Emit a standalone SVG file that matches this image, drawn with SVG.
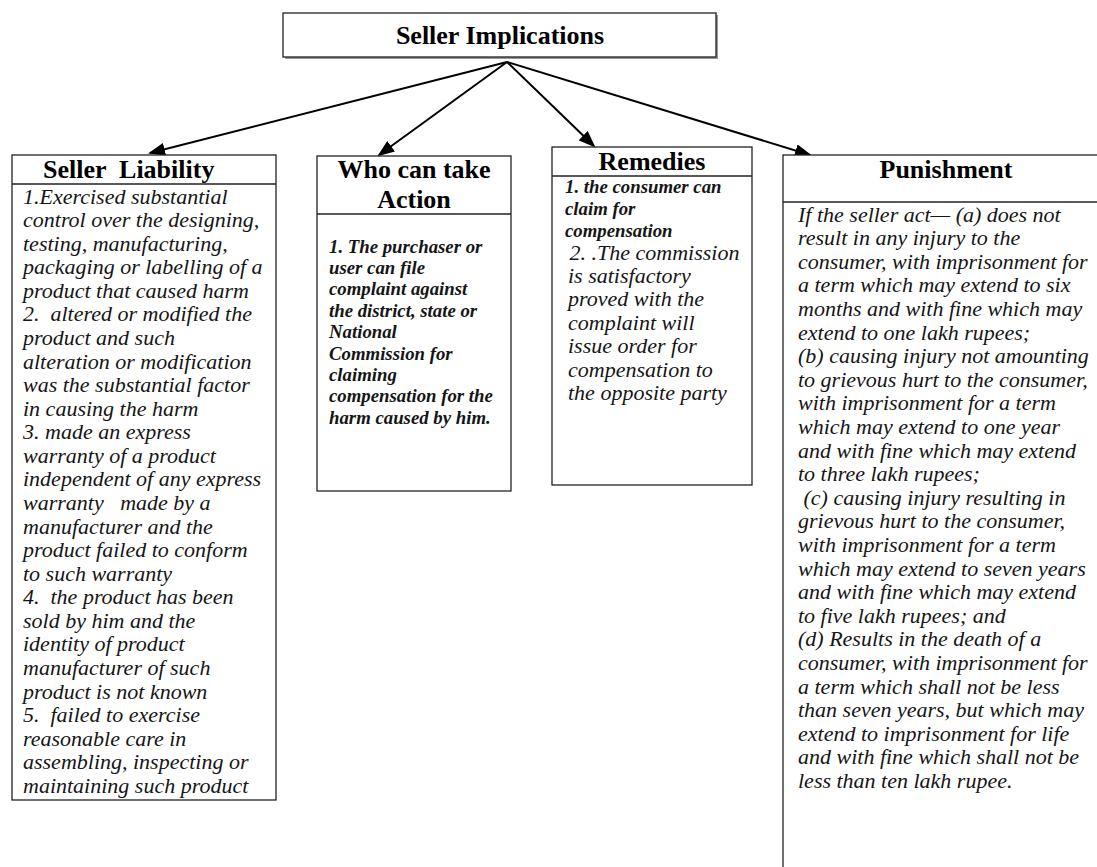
<svg xmlns="http://www.w3.org/2000/svg" width="1097" height="867" viewBox="0 0 1097 867">
  <style>
    .box { fill: #fff; stroke: #222; stroke-width: 1.3; }
    .rule { stroke: #222; stroke-width: 1.3; }
    .title { font-family: "Liberation Serif", "Times New Roman", serif; font-weight: bold; font-size: 26px; fill: #000; }
    .body { font-family: "Liberation Serif", "Times New Roman", serif; font-style: italic; font-size: 22px; fill: #151515; }
    .small { font-family: "Liberation Serif", "Times New Roman", serif; font-style: italic; font-weight: bold; font-size: 18.8px; fill: #151515; }
    .conn { stroke: #000; stroke-width: 2; fill: none; marker-end: url(#arrow); }
  </style>
  <defs>
    <marker id="arrow" markerUnits="userSpaceOnUse" markerWidth="17" markerHeight="13" refX="15" refY="6.5" orient="auto">
      <path d="M0,0 L17,6.5 L0,13 z" fill="#000"/>
    </marker>
  </defs>

  <rect width="1097" height="867" fill="#fff"/>

  <!-- root node -->
  <g id="seller-implications">
    <rect x="285" y="15" width="433" height="44" fill="#999"/>
    <rect x="283" y="13" width="433" height="44" class="box"/>
    <text x="500" y="44" class="title" text-anchor="middle">Seller Implications</text>
  </g>

  <!-- connectors -->
  <g id="connectors">
    <line x1="507" y1="62" x2="150" y2="153" class="conn"/>
    <line x1="507" y1="62" x2="379" y2="155" class="conn"/>
    <line x1="507" y1="62" x2="594" y2="146" class="conn"/>
    <line x1="507" y1="62" x2="810" y2="155" class="conn"/>
  </g>

  <!-- Seller Liability -->
  <g id="seller-liability">
    <rect x="12" y="155" width="264" height="645" class="box"/>
    <line x1="12" y1="184" x2="276" y2="184" class="rule"/>
    <text x="43" y="178" class="title" xml:space="preserve">Seller  Liability</text>
    <g class="body">
      <text x="23" y="203.5">1.Exercised substantial</text>
      <text x="23" y="227.1">control over the designing,</text>
      <text x="23" y="250.6">testing, manufacturing,</text>
      <text x="23" y="274.2">packaging or labelling of a</text>
      <text x="23" y="297.8">product that caused harm</text>
      <text x="23" y="321.4" xml:space="preserve">2.  altered or modified the</text>
      <text x="23" y="344.9">product and such</text>
      <text x="23" y="368.5">alteration or modification</text>
      <text x="23" y="392.1">was the substantial factor</text>
      <text x="23" y="415.6">in causing the harm</text>
      <text x="23" y="439.2">3. made an express</text>
      <text x="23" y="462.8">warranty of a product</text>
      <text x="23" y="486.3">independent of any express</text>
      <text x="23" y="509.9" xml:space="preserve">warranty   made by a</text>
      <text x="23" y="533.5">manufacturer and the</text>
      <text x="23" y="557.1">product failed to conform</text>
      <text x="23" y="580.6">to such warranty</text>
      <text x="23" y="604.2" xml:space="preserve">4.  the product has been</text>
      <text x="23" y="627.8">sold by him and the</text>
      <text x="23" y="651.3">identity of product</text>
      <text x="23" y="674.9">manufacturer of such</text>
      <text x="23" y="698.5">product is not known</text>
      <text x="23" y="722.0" xml:space="preserve">5.  failed to exercise</text>
      <text x="23" y="745.6">reasonable care in</text>
      <text x="23" y="769.2">assembling, inspecting or</text>
      <text x="23" y="792.7">maintaining such product</text>
    </g>
  </g>

  <!-- Who can take Action -->
  <g id="who-can-take-action">
    <rect x="317" y="156" width="194" height="335" class="box"/>
    <line x1="317" y1="214" x2="511" y2="214" class="rule"/>
    <text x="414" y="178" class="title" text-anchor="middle">Who can take</text>
    <text x="414" y="208" class="title" text-anchor="middle">Action</text>
    <g class="small">
      <text x="329" y="252.5">1. The purchaser or</text>
      <text x="329" y="273.9">user can file</text>
      <text x="329" y="295.3">complaint against</text>
      <text x="329" y="316.7">the district, state or</text>
      <text x="329" y="338.1">National</text>
      <text x="329" y="359.5">Commission for</text>
      <text x="329" y="380.9">claiming</text>
      <text x="329" y="402.3">compensation for the</text>
      <text x="329" y="423.7">harm caused by him.</text>
    </g>
  </g>

  <!-- Remedies -->
  <g id="remedies">
    <rect x="552" y="147" width="200" height="338" class="box"/>
    <line x1="552" y1="176" x2="752" y2="176" class="rule"/>
    <text x="652" y="170" class="title" text-anchor="middle">Remedies</text>
    <g class="small">
      <text x="565" y="192.5">1. the consumer can</text>
      <text x="565" y="214.5">claim for</text>
      <text x="565" y="236.5">compensation</text>
    </g>
    <g class="body">
      <text x="564" y="259.5" xml:space="preserve"> 2. .The commission</text>
      <text x="568" y="282.5">is satisfactory</text>
      <text x="568" y="306">proved with the</text>
      <text x="568" y="329.5">complaint will</text>
      <text x="568" y="353">issue order for</text>
      <text x="568" y="376.5">compensation to</text>
      <text x="568" y="400">the opposite party</text>
    </g>
  </g>

  <!-- Punishment -->
  <g id="punishment">
    <rect x="783" y="155" width="330" height="730" class="box"/>
    <line x1="783" y1="202" x2="1097" y2="202" class="rule"/>
    <text x="946" y="178" class="title" text-anchor="middle">Punishment</text>
    <g class="body">
      <text x="798" y="221.5">If the seller act— (a) does not</text>
      <text x="798" y="245.1">result in any injury to the</text>
      <text x="798" y="268.7">consumer, with imprisonment for</text>
      <text x="798" y="292.3">a term which may extend to six</text>
      <text x="798" y="315.9">months and with fine which may</text>
      <text x="798" y="339.5">extend to one lakh rupees;</text>
      <text x="798" y="363.1">(b) causing injury not amounting</text>
      <text x="798" y="386.7">to grievous hurt to the consumer,</text>
      <text x="798" y="410.3">with imprisonment for a term</text>
      <text x="798" y="433.9">which may extend to one year</text>
      <text x="798" y="457.5">and with fine which may extend</text>
      <text x="798" y="481.1">to three lakh rupees;</text>
      <text x="798" y="504.7" xml:space="preserve"> (c) causing injury resulting in</text>
      <text x="798" y="528.3">grievous hurt to the consumer,</text>
      <text x="798" y="551.9">with imprisonment for a term</text>
      <text x="798" y="575.5">which may extend to seven years</text>
      <text x="798" y="599.1">and with fine which may extend</text>
      <text x="798" y="622.7">to five lakh rupees; and</text>
      <text x="798" y="646.3">(d) Results in the death of a</text>
      <text x="798" y="669.9">consumer, with imprisonment for</text>
      <text x="798" y="693.5">a term which shall not be less</text>
      <text x="798" y="717.1">than seven years, but which may</text>
      <text x="798" y="740.7">extend to imprisonment for life</text>
      <text x="798" y="764.3">and with fine which shall not be</text>
      <text x="798" y="787.9">less than ten lakh rupee.</text>
    </g>
  </g>
</svg>
